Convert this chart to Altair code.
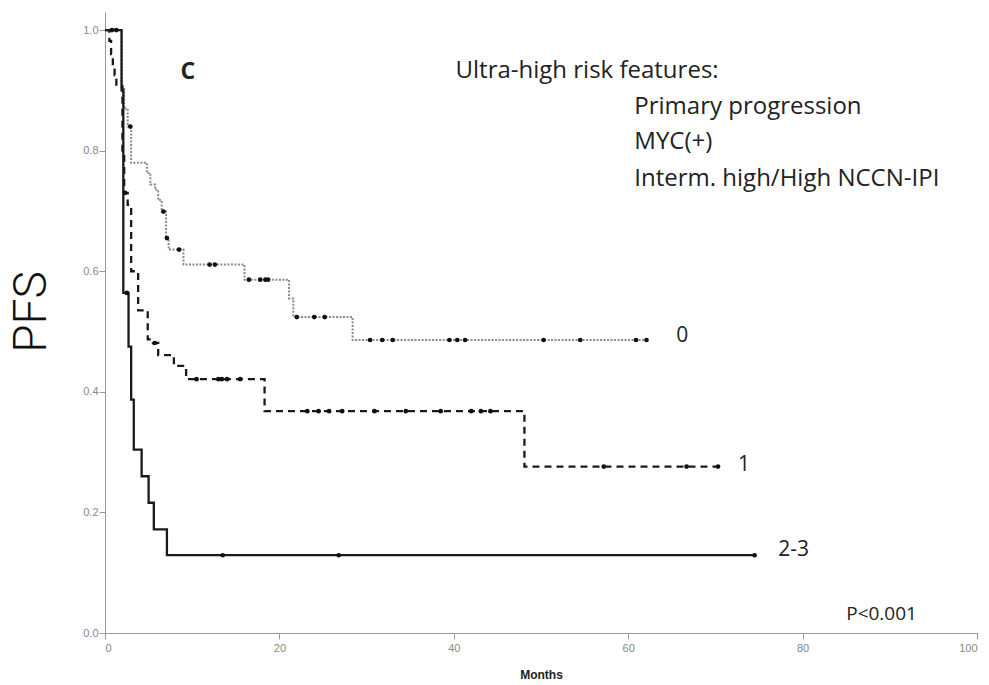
import altair as alt
import pandas as pd

# ---- data (Kaplan-Meier steps) ----
# group "0" (dotted grey)
months_0 = [0, 1.9, 2.2, 2.6, 3.0, 4.8, 5.2, 5.75, 6.1, 6.5, 7.0, 7.3, 9.0, 16.0, 21.1, 21.6, 28.4, 62.3]
pfs_0 = [1.0, 0.905, 0.87, 0.84, 0.78, 0.763, 0.744, 0.735, 0.718, 0.699, 0.655, 0.636, 0.611, 0.586, 0.555, 0.524, 0.486, 0.486]
censor_0 = [0.8, 1.3, 2.9, 6.7, 7.1, 8.5, 12.0, 12.6, 16.5, 17.8, 18.4, 18.7, 22.0, 24.0, 25.2,
            30.4, 31.8, 33.0, 39.5, 40.4, 41.3, 50.3, 54.5, 60.9, 62.1]

# group "1" (dashed black)
months_1 = [0, 0.5, 0.7, 0.9, 1.1, 1.3, 2.0, 2.2, 2.6, 3.0, 3.8, 4.9, 5.5, 6.1, 7.9, 9.3, 18.3, 48.1, 70.3]
pfs_1 = [1.0, 0.982, 0.96, 0.94, 0.925, 0.907, 0.80, 0.73, 0.71, 0.60, 0.535, 0.487, 0.481, 0.461, 0.443, 0.421, 0.368, 0.276, 0.276]
censor_1 = [2.3, 5.7, 10.5, 13.0, 13.4, 14.0, 15.5, 23.2, 24.5, 25.7, 27.2, 30.9, 34.5, 38.5,
            42.0, 43.1, 44.2, 57.2, 66.7, 70.3]

# group "2-3" (solid black)
months_2 = [0, 1.9, 2.1, 2.7, 3.0, 3.3, 4.2, 5.0, 5.6, 7.1, 74.5]
pfs_2 = [1.0, 0.90, 0.564, 0.475, 0.387, 0.304, 0.26, 0.216, 0.172, 0.129, 0.129]
censor_2 = [2.5, 13.5, 26.8, 74.5]

x_ticks = [0, 20, 40, 60, 80, 100]
y_ticks = [0.0, 0.2, 0.4, 0.6, 0.8, 1.0]


def step_value(ts, ss, t):
    v = ss[0]
    for ti, si in zip(ts, ss):
        if ti <= t:
            v = si
    return v


def curve_df(ts, ss):
    return pd.DataFrame({"t": ts, "s": ss})


def censor_df(ts, ss, cs):
    return pd.DataFrame({"t": cs, "s": [step_value(ts, ss, c) for c in cs]})


x_enc = alt.X(
    "t:Q",
    scale=alt.Scale(domain=[0, 100], nice=False, zero=True),
    axis=alt.Axis(values=x_ticks, format="d", title="Months",
                  titleFont="Liberation Sans", titleFontSize=12, titleFontWeight="bold",
                  titleColor="#222", titlePadding=16, labelPadding=3),
)
y_enc = alt.Y(
    "s:Q",
    scale=alt.Scale(domain=[0, 1.03], nice=False),
    axis=alt.Axis(values=y_ticks, format=".1f", title=None, labelPadding=1),
)

line0 = alt.Chart(curve_df(months_0, pfs_0)).mark_line(
    interpolate="step-after", color="#8a8a8a", strokeWidth=2, strokeDash=[2, 1.5]
).encode(x=x_enc, y=y_enc)

line1 = alt.Chart(curve_df(months_1, pfs_1)).mark_line(
    interpolate="step-after", color="#1a1a1a", strokeWidth=2.3, strokeDash=[7, 5]
).encode(x=x_enc, y=y_enc)

line2 = alt.Chart(curve_df(months_2, pfs_2)).mark_line(
    interpolate="step-after", color="#1a1a1a", strokeWidth=2.3
).encode(x=x_enc, y=y_enc)

cens = pd.concat([
    censor_df(months_0, pfs_0, censor_0),
    censor_df(months_1, pfs_1, censor_1),
    censor_df(months_2, pfs_2, censor_2),
])
points = alt.Chart(cens).mark_point(
    shape="circle", filled=True, size=22, color="#111", opacity=1
).encode(x=x_enc, y=y_enc)


def label(txt, t, s, size=21, weight="normal", align="left", baseline="alphabetic", font="Open Sans"):
    return alt.Chart().mark_text(
        text=txt, font=font, fontSize=size, fontWeight=weight, color="#222",
        align=align, baseline=baseline
    ).encode(x=alt.datum(t), y=alt.datum(s))


texts = [
    label("0", 65.5, 0.493, baseline="middle"),
    label("1", 72.6, 0.279, baseline="middle"),
    label("2-3", 77.2, 0.138, baseline="middle"),
    label("C", 9.5, 0.931, size=23, weight="bold", align="center", baseline="middle"),
    label("Ultra-high risk features:", 40.2, 0.921, size=24),
    label("Primary progression", 60.7, 0.861, size=24),
    label("MYC(+)", 60.7, 0.802, size=24),
    label("Interm. high/High NCCN-IPI", 60.7, 0.741, size=24),
    label("P<0.001", 85.0, 0.022, size=19),
]

pfs_title = alt.Chart().mark_text(
    text="PFS", angle=270, font="Roboto", fontSize=46, fontWeight=300, color="#111",
    align="center", baseline="middle"
).encode(x=alt.value(-73), y=alt.value(300))

chart = alt.layer(line0, line1, line2, points, *texts, pfs_title).properties(
    width=872, height=621,
    autosize=alt.AutoSizeParams(type="none"),
    padding={"left": 105, "top": 12, "right": 12, "bottom": 52},
    background="white",
).configure_view(stroke=None).configure_axis(
    grid=False, domainColor="#999", tickColor="#999", tickSize=6,
    labelColor="#888", labelFont="Liberation Sans", labelFontSize=11,
)

chart.save("out.html", embed_options={"renderer": "svg", "actions": False})
